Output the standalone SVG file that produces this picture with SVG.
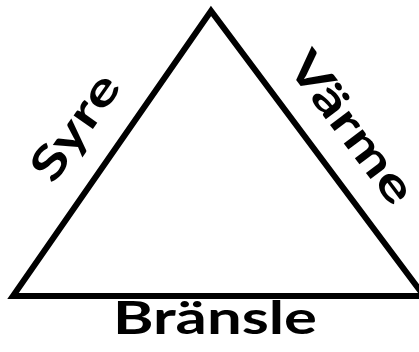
<svg xmlns="http://www.w3.org/2000/svg" width="419" height="352" viewBox="0 0 419 352">
<style>
.lbl{font-family:"Lato","Open Sans","Liberation Sans",sans-serif;font-weight:bold;font-size:46px;fill:#000;text-anchor:middle}
.edge{fill:none;stroke:#000;stroke-width:6;stroke-linejoin:miter}
</style>
<rect width="419" height="352" fill="#fff"/>
<g id="connectors">
<path class="edge" d="M211,11 L13,296 L424,296 Z"/>
</g>
<g id="syre"><text class="lbl" transform="translate(88,136) rotate(-55)" textLength="120" lengthAdjust="spacingAndGlyphs">Syre</text></g>
<g id="varme"><text class="lbl" transform="translate(339,137) rotate(53)" textLength="178" lengthAdjust="spacingAndGlyphs">Värme</text></g>
<g id="bransle"><text class="lbl" x="215" y="334" textLength="204" lengthAdjust="spacingAndGlyphs">Bränsle</text></g>
</svg>
